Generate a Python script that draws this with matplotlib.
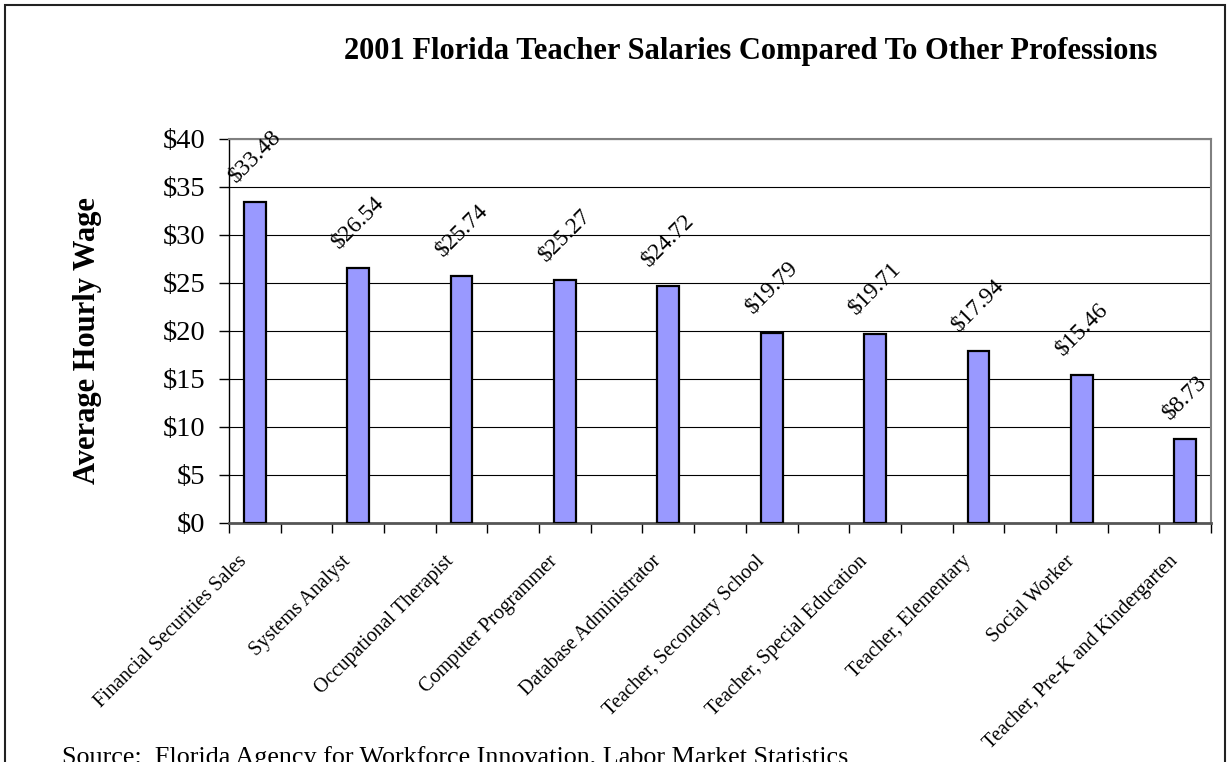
import numpy as np
import matplotlib
matplotlib.use("Agg")
import matplotlib.pyplot as plt
import matplotlib.transforms as mtransforms
from matplotlib.patches import Rectangle

# --- data ---
professions = ["Financial Securities Sales", "Systems Analyst", "Occupational Therapist",
               "Computer Programmer", "Database Administrator", "Teacher, Secondary School",
               "Teacher, Special Education", "Teacher, Elementary", "Social Worker",
               "Teacher, Pre-K and Kindergarten"]
wages = [33.48, 26.54, 25.74, 25.27, 24.72, 19.79, 19.71, 17.94, 15.46, 8.73]
yticks = [0, 5, 10, 15, 20, 25, 30, 35, 40]

plt.rcParams['font.family'] = 'Liberation Serif'

W, H = 1231, 762
fig = plt.figure(figsize=(W / 100, H / 100), dpi=100)
ax = fig.add_axes([229 / W, 1 - 523 / H, 982 / W, 384 / H])

x = np.arange(len(wages))
ax.bar(x, wages, width=0.21, color='#9999FF', edgecolor='black', linewidth=1.6, zorder=3)

ax.set_xlim(-0.25, len(wages) - 0.75)
ax.set_ylim(0, 40)

# gridlines
ax.set_yticks(yticks)
ax.set_yticklabels(["$%d" % v for v in yticks], fontsize=20.5)
ax.yaxis.grid(True, color='black', linewidth=0.8, zorder=1)
ax.tick_params(axis='y', direction='out', length=7, width=1, pad=10)

# x ticks at slot boundaries (two slots per category)
bounds = np.arange(0, 2 * len(wages)) / 2 - 0.25
ax.set_xticks(bounds)
ax.set_xticklabels([])
ax.tick_params(axis='x', direction='out', length=7, width=1)

for s in ['top', 'right']:
    ax.spines[s].set_color('#808080')
    ax.spines[s].set_linewidth(1.5)
ax.spines['bottom'].set_color('#555555')
ax.spines['bottom'].set_linewidth(2)
ax.spines['left'].set_color('black')
ax.spines['left'].set_linewidth(1)

# category labels
lab_trans = mtransforms.offset_copy(ax.get_xaxis_transform(), fig=fig, x=-17, y=-29, units='dots')
for xi, name in zip(x, professions):
    ax.text(xi, 0, name, transform=lab_trans, rotation=45, rotation_mode='anchor',
            ha='right', va='top', fontsize=14.5)

# value labels
for xi, v in zip(x, wages):
    ax.annotate("$%.2f" % v, (xi, v), xytext=(0, 11), textcoords='offset points',
                rotation=45, ha='center', va='bottom', fontsize=17, annotation_clip=False)

fig.text(88 / W, 1 - 341 / H, "Average Hourly Wage", rotation=90, ha='center', va='center',
         fontsize=22, fontweight='bold')
fig.text(751 / W, 1 - 52 / H, "2001 Florida Teacher Salaries Compared To Other Professions",
         ha='center', va='center', fontsize=22, fontweight='bold')
fig.text(62 / W, -2 / H, "Source:  Florida Agency for Workforce Innovation, Labor Market Statistics",
         ha='left', va='baseline', fontsize=18.8)

# outer border
fig.patches.append(Rectangle((5 / W, -0.1), 1220 / W, 1.1 - 5 / H, transform=fig.transFigure,
                             fill=False, edgecolor='#222222', linewidth=1.5))

fig.savefig("out.png", dpi=100)
